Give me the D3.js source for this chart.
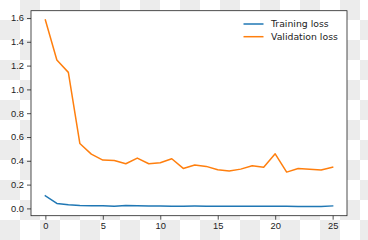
<!DOCTYPE html>
<html lang="en">
<head>
<meta charset="UTF-8">
<title>Loss curves</title>
<script src="https://d3js.org/d3.v7.min.js"></script>
<style>
    body { margin: 0; padding: 0; }
    svg { display: block; font-family: 'DejaVu Sans', sans-serif; }
    .tick text { font-size: 9.3px; fill: #222; }
    .legend text { font-size: 9.3px; fill: #222; }
</style>
</head>
<body>
<script>
    // epochs 0..25
    var epochs = d3.range(0, 26);
    var trainingLoss = [0.106, 0.042, 0.030, 0.025, 0.023, 0.022, 0.019, 0.025, 0.022, 0.021,
                        0.020, 0.019, 0.019, 0.020, 0.019, 0.018, 0.018, 0.018, 0.018, 0.018,
                        0.018, 0.018, 0.017, 0.017, 0.017, 0.021];
    var validationLoss = [1.583, 1.247, 1.143, 0.546, 0.456, 0.406, 0.403, 0.375, 0.423, 0.375,
                          0.383, 0.417, 0.336, 0.364, 0.353, 0.325, 0.314, 0.330, 0.358, 0.345,
                          0.459, 0.305, 0.336, 0.330, 0.322, 0.347];
    var seriesNames = ["Training loss", "Validation loss"];
    var seriesColors = ["#1f77b4", "#ff7f0e"];
    var xTicks = [0, 5, 10, 15, 20, 25];
    var yTicks = [0.0, 0.2, 0.4, 0.6, 0.8, 1.0, 1.2, 1.4, 1.6];

    var W = 368, H = 240;
    var margin = {left: 31, top: 10.7, right: 21, bottom: 24.3};

    var svg = d3.select("body").append("svg")
        .attr("width", W)
        .attr("height", H);

    // transparent background checkerboard
    var defs = svg.append("defs");
    var pat = defs.append("pattern")
        .attr("id", "checker")
        .attr("width", 40).attr("height", 40)
        .attr("patternUnits", "userSpaceOnUse");
    pat.append("rect").attr("width", 40).attr("height", 40).attr("fill", "#ffffff");
    pat.append("rect").attr("x", 20).attr("y", 0).attr("width", 20).attr("height", 20).attr("fill", "#ececec");
    pat.append("rect").attr("x", 0).attr("y", 20).attr("width", 20).attr("height", 20).attr("fill", "#ececec");
    svg.append("rect").attr("width", W).attr("height", H).attr("fill", "url(#checker)");

    var allVals = trainingLoss.concat(validationLoss);
    var yMin = d3.min(allVals), yMax = d3.max(allVals);
    var yPad = (yMax - yMin) * 0.05;
    var xPad = (d3.max(epochs) - d3.min(epochs)) * 0.05;

    var x = d3.scaleLinear()
        .domain([d3.min(epochs) - xPad, d3.max(epochs) + xPad])
        .range([margin.left, W - margin.right]);
    var y = d3.scaleLinear()
        .domain([yMin - yPad, yMax + yPad])
        .range([H - margin.bottom, margin.top]);

    // plot area
    svg.append("rect")
        .attr("x", margin.left).attr("y", margin.top)
        .attr("width", W - margin.left - margin.right)
        .attr("height", H - margin.top - margin.bottom)
        .attr("fill", "#ffffff");

    var line = d3.line()
        .x(function(d, i) { return x(epochs[i]); })
        .y(function(d) { return y(d); });

    [trainingLoss, validationLoss].forEach(function(s, k) {
        svg.append("path")
            .datum(s)
            .attr("fill", "none")
            .attr("stroke", seriesColors[k])
            .attr("stroke-width", 1.5)
            .attr("stroke-linejoin", "round")
            .attr("stroke-linecap", "square")
            .attr("d", line);
    });

    // axes
    var xAxis = svg.append("g")
        .attr("transform", "translate(0," + (H - margin.bottom) + ")")
        .call(d3.axisBottom(x).tickValues(xTicks).tickFormat(d3.format("d")).tickSize(4).tickPadding(3));
    var yAxis = svg.append("g")
        .attr("transform", "translate(" + margin.left + ",0)")
        .call(d3.axisLeft(y).tickValues(yTicks).tickFormat(d3.format(".1f")).tickSize(4).tickPadding(3));
    [xAxis, yAxis].forEach(function(g) {
        g.select(".domain").remove();
        g.selectAll(".tick line").attr("stroke", "#222").attr("stroke-width", 0.8);
    });

    // frame
    svg.append("rect")
        .attr("x", margin.left).attr("y", margin.top)
        .attr("width", W - margin.left - margin.right)
        .attr("height", H - margin.top - margin.bottom)
        .attr("fill", "none")
        .attr("stroke", "#222")
        .attr("stroke-width", 0.8);

    // legend
    var legend = svg.append("g").attr("class", "legend");
    seriesNames.forEach(function(name, i) {
        var ly = 24 + i * 12.7;
        legend.append("line")
            .attr("x1", 243.5).attr("x2", 263.5)
            .attr("y1", ly).attr("y2", ly)
            .attr("stroke", seriesColors[i])
            .attr("stroke-width", 1.5);
        legend.append("text")
            .attr("x", 271).attr("y", ly)
            .attr("dy", "0.35em")
            .text(name);
    });
</script>
</body>
</html>
